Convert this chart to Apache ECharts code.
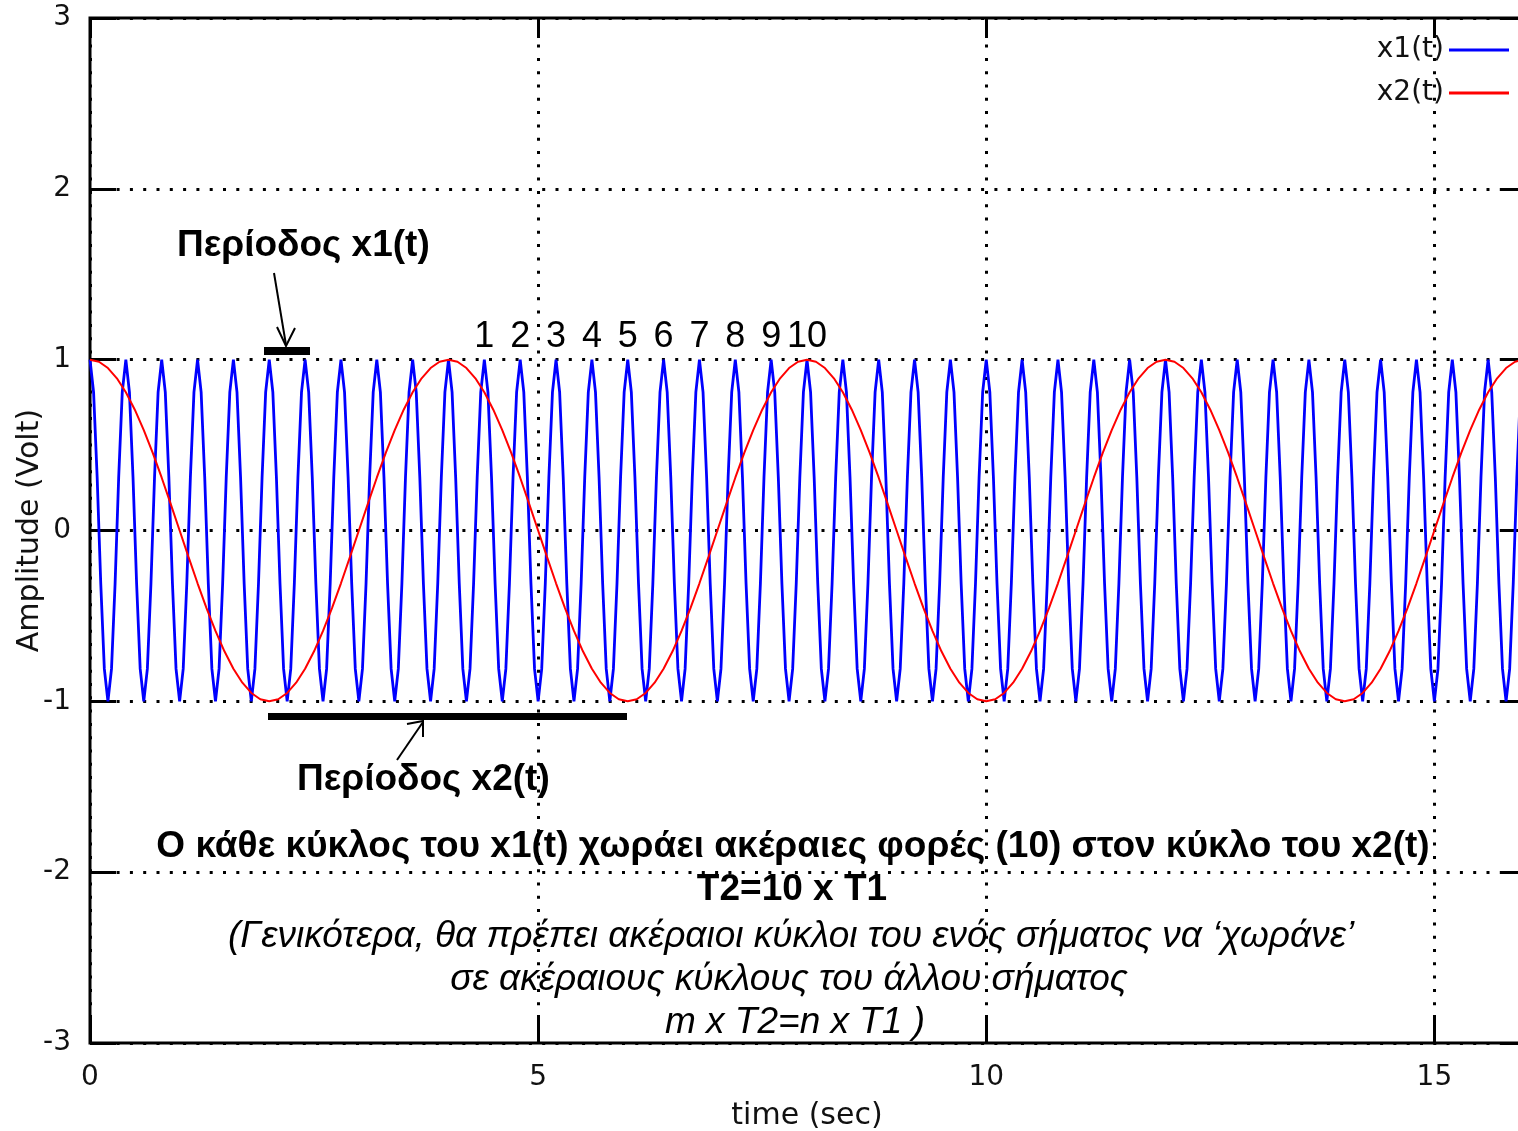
<!DOCTYPE html>
<html>
<head>
<meta charset="utf-8">
<script src="https://cdn.jsdelivr.net/npm/echarts@6/dist/echarts.min.js"></script>
<style>
html,body{margin:0;padding:0;background:#fff;}
#chart{width:1518px;height:1131px;}
</style>
</head>
<body>
<div id="chart"></div>
<script>
// ---- data ----
const seriesNames = ['x1(t)', 'x2(t)'];
// x1(t): sampled every x1Step seconds (10 samples per 0.4 s period)
const x1Step = 0.04;
const x1Values = [
1,0.81,0.31,-0.31,-0.81,-1,-0.81,-0.31,0.31,0.81,
1,0.81,0.31,-0.31,-0.81,-1,-0.81,-0.31,0.31,0.81,
1,0.81,0.31,-0.31,-0.81,-1,-0.81,-0.31,0.31,0.81,
1,0.81,0.31,-0.31,-0.81,-1,-0.81,-0.31,0.31,0.81,
1,0.81,0.31,-0.31,-0.81,-1,-0.81,-0.31,0.31,0.81,
1,0.81,0.31,-0.31,-0.81,-1,-0.81,-0.31,0.31,0.81,
1,0.81,0.31,-0.31,-0.81,-1,-0.81,-0.31,0.31,0.81,
1,0.81,0.31,-0.31,-0.81,-1,-0.81,-0.31,0.31,0.81,
1,0.81,0.31,-0.31,-0.81,-1,-0.81,-0.31,0.31,0.81,
1,0.81,0.31,-0.31,-0.81,-1,-0.81,-0.31,0.31,0.81,
1,0.81,0.31,-0.31,-0.81,-1,-0.81,-0.31,0.31,0.81,
1,0.81,0.31,-0.31,-0.81,-1,-0.81,-0.31,0.31,0.81,
1,0.81,0.31,-0.31,-0.81,-1,-0.81,-0.31,0.31,0.81,
1,0.81,0.31,-0.31,-0.81,-1,-0.81,-0.31,0.31,0.81,
1,0.81,0.31,-0.31,-0.81,-1,-0.81,-0.31,0.31,0.81,
1,0.81,0.31,-0.31,-0.81,-1,-0.81,-0.31,0.31,0.81,
1,0.81,0.31,-0.31,-0.81,-1,-0.81,-0.31,0.31,0.81,
1,0.81,0.31,-0.31,-0.81,-1,-0.81,-0.31,0.31,0.81,
1,0.81,0.31,-0.31,-0.81,-1,-0.81,-0.31,0.31,0.81,
1,0.81,0.31,-0.31,-0.81,-1,-0.81,-0.31,0.31,0.81,
1,0.81,0.31,-0.31,-0.81,-1,-0.81,-0.31,0.31,0.81,
1,0.81,0.31,-0.31,-0.81,-1,-0.81,-0.31,0.31,0.81,
1,0.81,0.31,-0.31,-0.81,-1,-0.81,-0.31,0.31,0.81,
1,0.81,0.31,-0.31,-0.81,-1,-0.81,-0.31,0.31,0.81,
1,0.81,0.31,-0.31,-0.81,-1,-0.81,-0.31,0.31,0.81,
1,0.81,0.31,-0.31,-0.81,-1,-0.81,-0.31,0.31,0.81,
1,0.81,0.31,-0.31,-0.81,-1,-0.81,-0.31,0.31,0.81,
1,0.81,0.31,-0.31,-0.81,-1,-0.81,-0.31,0.31,0.81,
1,0.81,0.31,-0.31,-0.81,-1,-0.81,-0.31,0.31,0.81,
1,0.81,0.31,-0.31,-0.81,-1,-0.81,-0.31,0.31,0.81,
1,0.81,0.31,-0.31,-0.81,-1,-0.81,-0.31,0.31,0.81,
1,0.81,0.31,-0.31,-0.81,-1,-0.81,-0.31,0.31,0.81,
1,0.81,0.31,-0.31,-0.81,-1,-0.81,-0.31,0.31,0.81,
1,0.81,0.31,-0.31,-0.81,-1,-0.81,-0.31,0.31,0.81,
1,0.81,0.31,-0.31,-0.81,-1,-0.81,-0.31,0.31,0.81,
1,0.81,0.31,-0.31,-0.81,-1,-0.81,-0.31,0.31,0.81,
1,0.81,0.31,-0.31,-0.81,-1,-0.81,-0.31,0.31,0.81,
1,0.81,0.31,-0.31,-0.81,-1,-0.81,-0.31,0.31,0.81,
1,0.81,0.31,-0.31,-0.81,-1,-0.81,-0.31,0.31,0.81,
1,0.81,0.31,-0.31,-0.81,-1,-0.81,-0.31,0.31,0.81,
1
];
// x2(t): sampled every x2Step seconds (period 4 s)
const x2Step = 0.1;
const x2Values = [
1,0.988,0.951,0.891,0.809,0.707,0.588,0.454,0.309,0.156,0,-0.156,-0.309,-0.454,-0.588,-0.707,-0.809,-0.891,-0.951,-0.988,
-1,-0.988,-0.951,-0.891,-0.809,-0.707,-0.588,-0.454,-0.309,-0.156,0,0.156,0.309,0.454,0.588,0.707,0.809,0.891,0.951,0.988,
1,0.988,0.951,0.891,0.809,0.707,0.588,0.454,0.309,0.156,0,-0.156,-0.309,-0.454,-0.588,-0.707,-0.809,-0.891,-0.951,-0.988,
-1,-0.988,-0.951,-0.891,-0.809,-0.707,-0.588,-0.454,-0.309,-0.156,0,0.156,0.309,0.454,0.588,0.707,0.809,0.891,0.951,0.988,
1,0.988,0.951,0.891,0.809,0.707,0.588,0.454,0.309,0.156,0,-0.156,-0.309,-0.454,-0.588,-0.707,-0.809,-0.891,-0.951,-0.988,
-1,-0.988,-0.951,-0.891,-0.809,-0.707,-0.588,-0.454,-0.309,-0.156,0,0.156,0.309,0.454,0.588,0.707,0.809,0.891,0.951,0.988,
1,0.988,0.951,0.891,0.809,0.707,0.588,0.454,0.309,0.156,0,-0.156,-0.309,-0.454,-0.588,-0.707,-0.809,-0.891,-0.951,-0.988,
-1,-0.988,-0.951,-0.891,-0.809,-0.707,-0.588,-0.454,-0.309,-0.156,0,0.156,0.309,0.454,0.588,0.707,0.809,0.891,0.951,0.988,
1
];
// cycle counting labels above the x1 peaks
const cycleLabels = ['1','2','3','4','5','6','7','8','9','10'];
const cycleTimes = [4.4,4.8,5.2,5.6,6.0,6.4,6.8,7.2,7.6,8.0];
const cycleLevel = 1;
// axis ticks
const xTicks = [0,5,10,15];
const yTicks = [-3,-2,-1,0,1,2,3];
// annotation texts
const annX1 = 'Περίοδος x1(t)';
const annX2 = 'Περίοδος x2(t)';
const noteLines = [
  'Ο κάθε κύκλος του x1(t) χωράει ακέραιες φορές (10) στον κύκλο του x2(t)',
  'T2=10 x T1',
  '(Γενικότερα, θα πρέπει ακέραιοι κύκλοι του ενός σήματος να ‘χωράνε’',
  'σε ακέραιους κύκλους του άλλου σήματος',
  'm x T2=n x T1 )'
];

// ---- build ----
const x1Data = x1Values.map((v, i) => [+(i * x1Step).toFixed(4), v]);
const x2Data = x2Values.map((v, i) => [+(i * x2Step).toFixed(4), v]);
const cycleData = cycleTimes.map((t, i) => ({ value: [t, cycleLevel], label: { formatter: cycleLabels[i] } }));

const axisFont = 'DejaVu Sans';
const annFont = '"Liberation Sans", Arial, sans-serif';
const gridDots = { color: '#000', width: 3, type: [3, 10.3] };

const chart = echarts.init(document.getElementById('chart'), null, { renderer: 'canvas' });
const option = {
  animation: false,
  backgroundColor: '#fff',
  grid: { left: 90, top: 18, width: 1434, height: 1025, show: true, borderColor: '#000', borderWidth: 3,
    backgroundColor: 'transparent', containLabel: false, outerBoundsMode: 'none' },
  legend: {
    data: seriesNames,
    orient: 'vertical', align: 'right', right: 4, top: 31,
    icon: 'rect', itemWidth: 60, itemHeight: 3, itemGap: 15,
    textStyle: { fontFamily: axisFont, fontSize: 28, color: '#111', lineHeight: 28 },
    selectedMode: false
  },
  xAxis: [
    {
      type: 'value', min: 0, max: 16, interval: 5,
      name: 'time (sec)', nameLocation: 'middle', nameGap: 58, nameMoveOverlap: false,
      nameTextStyle: { fontFamily: axisFont, fontSize: 30, color: '#111' },
      axisLine: { show: false, onZero: false },
      axisTick: { show: true, inside: true, length: 28, lineStyle: { color: '#000', width: 3 } },
      axisLabel: { fontFamily: axisFont, fontSize: 28, color: '#111', margin: 21, showMaxLabel: false,
        formatter: v => (xTicks.indexOf(v) >= 0 ? String(v) : '') },
      splitLine: { show: true, lineStyle: gridDots }
    },
    {
      type: 'value', min: 0, max: 16, interval: 5, position: 'top',
      axisLine: { show: false, onZero: false },
      axisTick: { show: true, inside: true, length: 20, lineStyle: { color: '#000', width: 3 } },
      axisLabel: { show: false }, splitLine: { show: false }
    }
  ],
  yAxis: [
    {
      type: 'value', min: -3, max: 3, interval: 1,
      name: 'Amplitude (Volt)', nameLocation: 'middle', nameGap: 45, nameMoveOverlap: false,
      nameTextStyle: { fontFamily: axisFont, fontSize: 30, color: '#111' },
      axisLine: { show: false, onZero: false },
      axisTick: { show: true, inside: true, length: 26, lineStyle: { color: '#000', width: 3 } },
      axisLabel: { fontFamily: axisFont, fontSize: 28, color: '#111', margin: 19,
        formatter: v => (yTicks.indexOf(v) >= 0 ? String(v) : '') },
      splitLine: { show: true, lineStyle: gridDots }
    },
    {
      type: 'value', min: -3, max: 3, interval: 1, position: 'right',
      axisLine: { show: false, onZero: false },
      axisTick: { show: true, inside: true, length: 22, lineStyle: { color: '#000', width: 3 } },
      axisLabel: { show: false }, splitLine: { show: false }
    }
  ],
  series: [
    {
      name: seriesNames[0], type: 'line', data: x1Data, showSymbol: false, symbol: 'none',
      lineStyle: { color: '#0000ff', width: 2.8 }, itemStyle: { color: '#0000ff' }, z: 3
    },
    {
      name: seriesNames[1], type: 'line', data: x2Data, showSymbol: false, symbol: 'none',
      lineStyle: { color: '#ff0000', width: 2 }, itemStyle: { color: '#ff0000' }, z: 4
    },
    {
      name: 'cycles', type: 'scatter', data: cycleData, symbolSize: 1, silent: true,
      itemStyle: { color: 'transparent' }, z: 5,
      label: { show: true, position: 'inside', offset: [0, -23], fontFamily: annFont, fontSize: 36, color: '#000', opacity: 1 }
    }
  ],
  graphic: [
    { type: 'text', left: 177, top: 227, style: { text: annX1, font: 'bold 37px ' + annFont, fill: '#000' }, z: 10 },
    { type: 'line', shape: { x1: 274, y1: 273, x2: 286, y2: 345 }, style: { stroke: '#000', lineWidth: 2 }, z: 10 },
    { type: 'polyline', shape: { points: [[277, 327], [286, 346], [295, 328]] }, style: { stroke: '#000', lineWidth: 2, fill: null }, z: 10 },
    { type: 'rect', shape: { x: 264, y: 347, width: 46, height: 8 }, style: { fill: '#000' }, z: 10 },
    { type: 'rect', shape: { x: 268, y: 713, width: 359, height: 7 }, style: { fill: '#000' }, z: 10 },
    { type: 'line', shape: { x1: 397, y1: 760, x2: 423, y2: 722 }, style: { stroke: '#000', lineWidth: 2 }, z: 10 },
    { type: 'polyline', shape: { points: [[407, 724], [423, 721], [423, 737]] }, style: { stroke: '#000', lineWidth: 2, fill: null }, z: 10 },
    { type: 'text', left: 297, top: 761, style: { text: annX2, font: 'bold 37px ' + annFont, fill: '#000' }, z: 10 },
    { type: 'text', x: 793, y: 847, style: { text: noteLines[0], font: 'bold 37px ' + annFont, fill: '#000', textAlign: 'center', textVerticalAlign: 'middle' }, z: 10 },
    { type: 'text', x: 792, y: 890, style: { text: noteLines[1], font: 'bold 37px ' + annFont, fill: '#000', textAlign: 'center', textVerticalAlign: 'middle' }, z: 10 },
    { type: 'text', x: 791, y: 937, style: { text: noteLines[2], font: 'italic 37px ' + annFont, fill: '#000', textAlign: 'center', textVerticalAlign: 'middle' }, z: 10 },
    { type: 'text', x: 789, y: 980, style: { text: noteLines[3], font: 'italic 37px ' + annFont, fill: '#000', textAlign: 'center', textVerticalAlign: 'middle' }, z: 10 },
    { type: 'text', x: 795, y: 1023, style: { text: noteLines[4], font: 'italic 37px ' + annFont, fill: '#000', textAlign: 'center', textVerticalAlign: 'middle' }, z: 10 }
  ]
};
chart.setOption(option);
</script>
</body>
</html>
